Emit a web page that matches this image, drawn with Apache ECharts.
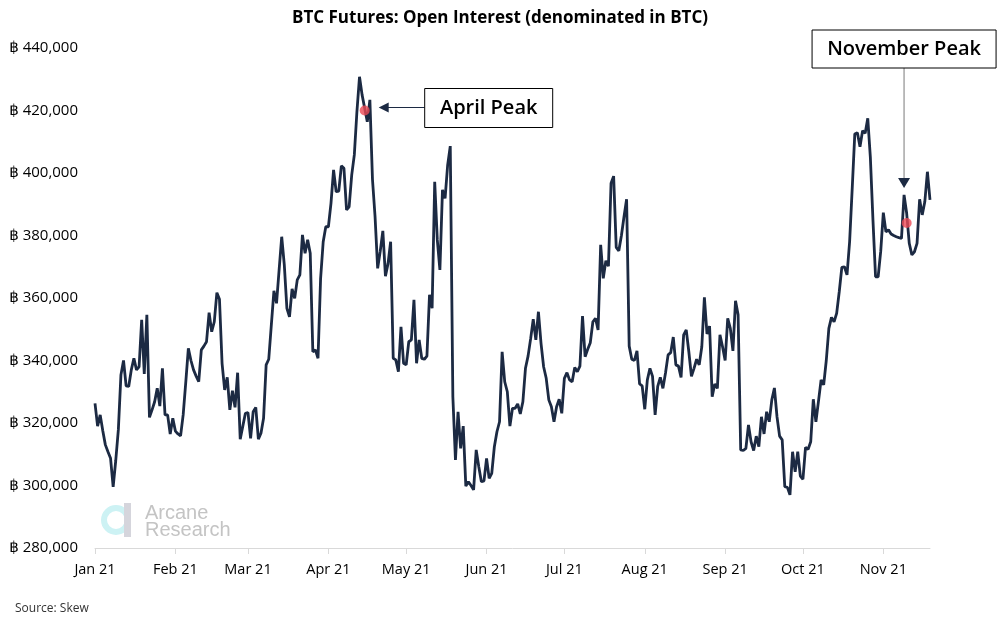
<!DOCTYPE html>
<html><head><meta charset="utf-8">
<script src="https://cdn.jsdelivr.net/npm/echarts@6/dist/echarts.min.js"></script>
<style>html,body{margin:0;padding:0;background:#fff}#chart{width:1000px;height:625px}</style>
</head><body><div id="chart"></div>
<script>
// ---- data (daily open interest in BTC) ----
const startYear = 2021;
const monthLabels = ['Jan 21','Feb 21','Mar 21','Apr 21','May 21','Jun 21','Jul 21','Aug 21','Sep 21','Oct 21','Nov 21','Dec 21'];
const jan = [326300,319000,322600,317500,313000,310800,308700,299600,308000,317800,335400,340000,331900,331700,337000,340700,337000,338000,353000,335700,354600,321800,324200,326800,331100,325400,337500,322600,322600,316500,321500];
const feb = [317400,316500,315900,322600,333000,343900,340000,337000,335000,333200,343400,344600,346000,355300,349200,352400,361700,359600,339100,330600,334600,324200,330300,325000,336100,314800,319000,323100];
const mar = [323300,315100,323600,325000,314800,316700,321500,338600,340400,351400,362300,358300,369000,379600,370600,356700,354000,362900,359900,365800,367400,380200,374300,378600,374300,342800,343400,340700,366300,378000,382800];
const apr = [382800,390300,401000,394000,394200,402300,401500,388200,389200,399400,405800,419600,430800,425000,420700,416400,423400,398000,386000,369500,375000,381500,367000,371000,378000,340700,340200,336400,350800,339100];
const may = [338600,346000,346600,359400,339100,346600,340700,340400,341400,361000,356700,397200,378600,369000,394600,391900,402600,408600,328400,308200,323600,311900,319000,299800,301200,300000,298600,311400,306000,301200,301500];
const jun = [308700,302300,303900,312400,317200,320400,342800,333200,330000,319000,324700,324700,326100,322900,326800,337500,341400,347000,353200,346600,355600,345500,338000,334300,327400,325200,320400,325200,327600,323100];
const jul = [334300,336100,333800,333200,337800,336400,338200,354200,341200,343600,345700,352400,353500,349800,377000,366300,371900,370200,396700,399000,376200,375100,380000,386000,391600,344600,340400,340000,343100,332500,331900];
const aug = [324400,333800,337500,334900,322600,331700,334600,331100,336000,341800,342500,347500,338600,338200,334600,348200,349800,342800,334900,337500,340400,338600,344400,360200,348500,351000,328400,332500,331100,348200,344400];
const sep = [340000,353500,350300,343100,359100,354600,311400,311200,311900,319400,314000,311200,315800,312400,322000,316500,323600,320400,327400,331200,322000,315800,314600,299600,299400,297000,310800,304400,310800,303000];
const oct = [302000,312200,311600,314000,327600,320400,327000,333800,332200,340000,350300,353800,352400,355100,362000,369800,370000,367400,378000,395000,412500,412900,408400,413500,412700,417500,405000,385000,366800,366800,375000];
const nov = [387300,381200,381800,380500,380000,379600,379300,379100,393000,387100,377500,373800,374800,377500,391600,386600,390800,400400,391400];

const aprilPeak = ['2021-04-15', 420000];       // red marker
const novemberPeak = ['2021-11-10', 384000];    // red marker
const novemberArrowAt = ['2021-11-09', 393000]; // point the arrow aims at

const values = [].concat(jan, feb, mar, apr, may, jun, jul, aug, sep, oct, nov);
const categories = values.map((v, i) => new Date(Date.UTC(startYear, 0, 1 + i)).toISOString().slice(0, 10));

const FONT = "'Open Sans', 'Noto Sans', 'DejaVu Sans', sans-serif";
const isMonthStart = (idx, val) => val.slice(8, 10) === '01';

const chart = echarts.init(document.getElementById('chart'), null, {renderer: 'canvas'});
chart.setOption({
  animation: false,
  backgroundColor: '#fff',
  title: {
    text: 'BTC Futures: Open Interest (denominated in BTC)',
    left: 'center', top: 5,
    textStyle: {fontFamily: FONT, fontSize: 17, fontWeight: 'bold', color: '#000'}
  },
  grid: {left: 95, right: 70, top: 48, bottom: 77, containLabel: false},
  xAxis: {
    type: 'category', data: categories, boundaryGap: false,
    axisLine: {show: true, lineStyle: {color: '#d9d9d9', width: 1}},
    axisTick: {show: true, interval: isMonthStart, length: 6, lineStyle: {color: '#d9d9d9'}},
    axisLabel: {
      interval: isMonthStart, margin: 14,
      fontFamily: FONT, fontSize: 14.5, color: '#000',
      formatter: v => monthLabels[parseInt(v.slice(5, 7), 10) - 1]
    },
    splitLine: {show: false}
  },
  yAxis: {
    type: 'value', min: 280000, max: 440000, interval: 20000,
    axisLine: {show: false}, axisTick: {show: false}, splitLine: {show: false},
    axisLabel: {margin: 17, fontFamily: FONT, fontSize: 15, color: '#000',
      formatter: v => '฿ ' + v.toLocaleString('en-US')}
  },
  series: [
    {type: 'line', data: values, showSymbol: false, symbol: 'none',
     lineStyle: {color: '#1c2a43', width: 2.8}, z: 2},
    {type: 'scatter', data: [aprilPeak, novemberPeak], symbolSize: 10,
     itemStyle: {color: '#ec4a56'}, z: 3}
  ]
});

const pA = chart.convertToPixel({gridIndex: 0}, [categories.indexOf(aprilPeak[0]), aprilPeak[1]]);
const pN = chart.convertToPixel({gridIndex: 0}, [categories.indexOf(novemberArrowAt[0]), novemberArrowAt[1]]);
const navy = '#1c2a43';
const aTipX = pA[0] + 14, aY = pA[1] - 3;
const aBoxX = pA[0] + 60;
const nX = pN[0], nTipY = pN[1] - 7;

chart.setOption({
  graphic: [
    // April annotation
    {type: 'line', shape: {x1: aBoxX, y1: aY, x2: aTipX + 9, y2: aY}, style: {stroke: navy, lineWidth: 1}, z: 10},
    {type: 'polygon', shape: {points: [[aTipX, aY], [aTipX + 10, aY - 5], [aTipX + 10, aY + 5]]}, style: {fill: navy}, z: 10},
    {type: 'rect', shape: {x: aBoxX, y: aY - 19, width: 128, height: 39}, style: {fill: '#fff', stroke: '#000', lineWidth: 1}, z: 10},
    {type: 'text', x: aBoxX + 64, y: aY + 0.5, style: {text: 'April Peak', fontFamily: FONT, fontSize: 20, fontWeight: 600, fill: '#000', align: 'center', verticalAlign: 'middle'}, z: 11},
    // November annotation
    {type: 'line', shape: {x1: nX, y1: 68, x2: nX, y2: nTipY - 9}, style: {stroke: '#a6a6a6', lineWidth: 1.5}, z: 10},
    {type: 'polygon', shape: {points: [[nX, nTipY], [nX - 6, nTipY - 10], [nX + 6, nTipY - 10]]}, style: {fill: navy}, z: 10},
    {type: 'rect', shape: {x: nX - 92, y: 30, width: 184, height: 38}, style: {fill: '#fff', stroke: '#000', lineWidth: 1}, z: 10},
    {type: 'text', x: nX, y: 49.5, style: {text: 'November Peak', fontFamily: FONT, fontSize: 20, fontWeight: 600, fill: '#000', align: 'center', verticalAlign: 'middle'}, z: 11},
    // watermark
    {type: 'circle', shape: {cx: 116, cy: 520, r: 12}, style: {fill: 'none', stroke: '#cdf2f4', lineWidth: 6}, z: 0},
    {type: 'rect', shape: {x: 124, y: 503, width: 7, height: 34}, style: {fill: '#d5d5dc'}, z: 0},
    {type: 'text', x: 145, y: 513, style: {text: 'Arcane', fontFamily: "'Liberation Sans', Arial, sans-serif", fontSize: 20, fill: '#c4c4c4', verticalAlign: 'middle'}, z: 0},
    {type: 'text', x: 145, y: 530, style: {text: 'Research', fontFamily: "'Liberation Sans', Arial, sans-serif", fontSize: 20, fill: '#c4c4c4', verticalAlign: 'middle'}, z: 0},
    // source
    {type: 'text', x: 15, y: 609, style: {text: 'Source: Skew', fontFamily: FONT, fontSize: 12, fill: '#333', verticalAlign: 'middle'}}
  ]
});
</script></body></html>
